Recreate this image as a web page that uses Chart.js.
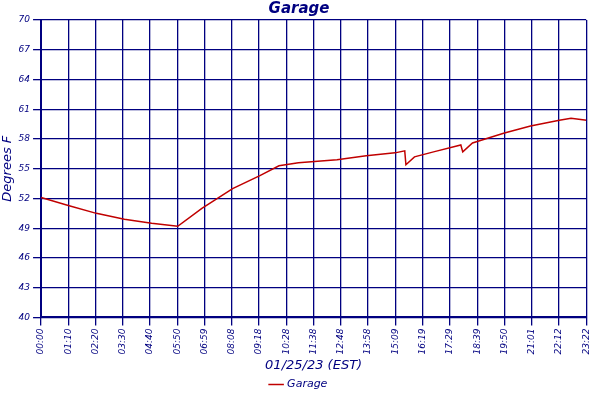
<!DOCTYPE html>
<html><head><meta charset="utf-8">
<script src="https://cdn.jsdelivr.net/npm/chart.js@4"></script>
<style>body{margin:0;background:#fff}</style>
</head><body><canvas id="c" width="600" height="400"></canvas>
<script>
const tickLabels = ['00:00','01:10','02:20','03:30','04:40','05:50','06:59','08:08','09:18','10:28','11:38','12:48','13:58','15:09','16:19','17:29','18:39','19:50','21:01','22:12','23:22'];
const minutes = [0,70,142,214,284,351,413,492,562,611,661,760,835,909,934,937,959,1008,1078,1083,1108,1157,1190,1257,1331,1361,1401];
const temps = [52.1,51.3,50.5,49.9,49.5,49.2,51.0,53.0,54.3,55.3,55.6,55.9,56.3,56.6,56.8,55.4,56.2,56.7,57.4,56.7,57.6,58.2,58.6,59.3,59.9,60.1,59.9];
const yTicks = [40,43,46,49,52,55,58,61,64,67,70];
const navy = '#000080';
const font = {family:'DejaVu Sans', style:'italic', size:10};
new Chart(document.getElementById('c'), {
  type:'line',
  data:{datasets:[{label:'Garage', data:minutes.map((m,i)=>({x:m,y:temps[i]})),
    borderColor:'#c00000', backgroundColor:'#c00000', borderWidth:1.5, pointRadius:0, tension:0}]},
  options:{
    responsive:false, animation:false,
    layout:{padding:{right:2}},
    plugins:{
      title:{display:true, text:'Garage', color:navy, font:{family:'DejaVu Sans', style:'italic', weight:'bold', size:15}, padding:{top:0,bottom:2}},
      legend:{position:'bottom', labels:{color:navy, font:{family:'DejaVu Sans', style:'italic', size:11}, usePointStyle:true, pointStyle:'line', boxWidth:14, padding:6}}
    },
    scales:{
      x:{type:'linear', min:0, max:1400,
        afterBuildTicks:a=>{a.ticks=tickLabels.map((t,i)=>({value:i*70}));},
        ticks:{color:navy, font:{...font, size:9}, minRotation:90, maxRotation:90, autoSkip:false, callback:(v,i)=>tickLabels[i]},
        grid:{color:navy, lineWidth:1.3}, border:{color:navy, width:2},
        title:{display:true, text:'01/25/23 (EST)', color:navy, font:{family:'DejaVu Sans', style:'italic', size:13}, padding:0}},
      y:{min:40, max:70,
        afterBuildTicks:a=>{a.ticks=yTicks.map(v=>({value:v}));},
        ticks:{color:navy, font:{...font, size:9}, autoSkip:false},
        grid:{color:navy, lineWidth:1.3}, border:{color:navy, width:2},
        title:{display:true, text:'Degrees F', color:navy, font:{family:'DejaVu Sans', style:'italic', size:13}, padding:0}}
    }
  }
});
</script></body></html>
